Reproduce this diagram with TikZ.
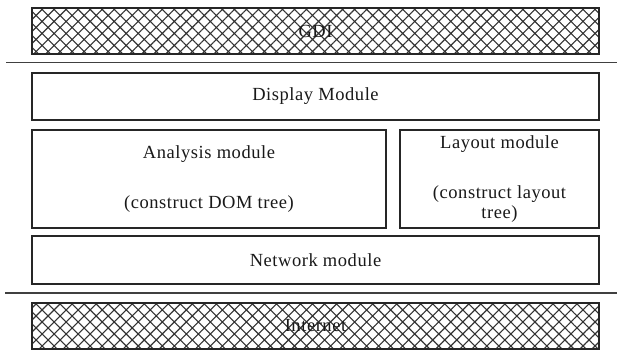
\documentclass[tikz,border=0pt]{standalone}
\usepackage{fontspec}
\setmainfont{Liberation Serif}[LetterSpace=3]
\usepackage{tikz}
\usetikzlibrary{patterns.meta}

\tikzset{
	layer/.style={draw=black!85, line width=1.6pt, inner sep=0pt, align=center,
		font=\fontsize{18.5}{20}\selectfont, text=black!90},
	hatched/.style={layer, pattern={Hatch[angle=45, distance=8.5pt, line width=1.1pt]},
		pattern color=black!80}
}

\begin{document}
\begin{tikzpicture}[x=1pt, y=-1pt]
	\useasboundingbox[fill=white] (0,0) rectangle (617,352);
	% top and bottom layers
	\node[hatched, minimum width=567, minimum height=46] (gdi) at (315.5,31) {GDI};
	\node[hatched, minimum width=567, minimum height=46] (net) at (315.5,326) {Internet};
	% separators
	\draw[line width=1.5pt, color=black!75] (6,62.5) -- (617,62.5);
	\draw[line width=1.5pt, color=black!75] (5,293) -- (617,293);
	% modules
	\node[layer, minimum width=567, minimum height=47] (disp) at (315.5,96.5) {Display Module};
	\node[layer, minimum width=354, minimum height=98] (ana) at (209,179)
		{Analysis module\\[30pt](construct DOM tree)};
	\node[layer, minimum width=199, minimum height=98] (lay) at (499.5,179)
		{Layout module\\[30pt](construct layout\\tree)};
	\node[layer, minimum width=567, minimum height=48] (netmod) at (315.5,260) {Network module};
\end{tikzpicture}
\end{document}
